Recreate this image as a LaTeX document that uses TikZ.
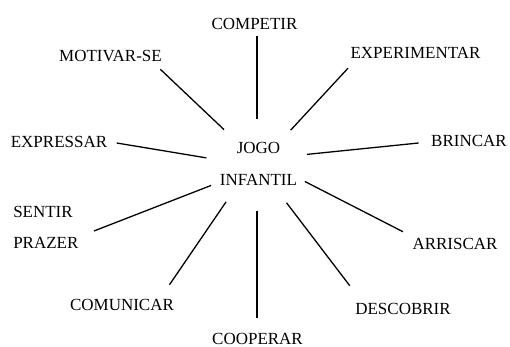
\documentclass[tikz,border=0pt]{standalone}
\usepackage{fontspec}
\setmainfont{Liberation Serif}
\usetikzlibrary{shapes.geometric}
\begin{document}
\begin{tikzpicture}[
    x=0.03cm, y=0.03cm,
    word/.style={inner sep=0.1cm, font=\fontsize{14.5}{27}\selectfont, align=center},
    hub/.style={ellipse, minimum width=3.06cm, minimum height=2.76cm, inner sep=0},
    spoke/.style={line width=1.1pt},
]
\useasboundingbox (0,0) rectangle (510,347);
\node[hub] (hub) at (257,182) {};
\node[word] (jogo) at (258.5,183) {JOGO\\INFANTIL};

\node[word] (competir) at (254.5,323) {COMPETIR};
\node[word] (motivar) at (110.5,291) {MOTIVAR-SE};
\node[word] (experimentar) at (415.5,294) {EXPERIMENTAR};
\node[word] (expressar) at (59,205) {EXPRESSAR};
\node[word] (brincar) at (469,206) {BRINCAR};
\node[word, align=left, anchor=west] (sentir) at (9.7,119.5) {SENTIR\\PRAZER};
\node[word] (arriscar) at (455,103) {ARRISCAR};
\node[word] (comunicar) at (122,42) {COMUNICAR};
\node[word] (cooperar) at (257.5,8) {COOPERAR};
\node[word] (descobrir) at (403,38) {DESCOBRIR};

\draw[spoke, shorten >=0.09cm] (hub.90) -- (hub.90 |- competir.south);
\draw[spoke] (hub.133) -- ([shift={(-5,-4)}]motivar.south east);
\draw[spoke] (hub.46) -- ([shift={(1,-6)}]experimentar.south west);
\draw[spoke] (hub.172) -- ([shift={(6,-1)}]expressar.east);
\draw[spoke] (hub.12) -- ([shift={(-9,-2)}]brincar.west);
\draw[spoke] (hub.204) -- ([shift={(12,-3.5)}]sentir.east);
\draw[spoke] (hub.-19) -- ([shift={(-6,3)}]arriscar.north west);
\draw[spoke] (hub.-130) -- ([shift={(-8,11)}]comunicar.north east);
\draw[spoke, shorten >=0.36cm] (hub.-90) -- (hub.-90 |- cooperar.north);
\draw[spoke] (hub.-52) -- ([shift={(-2,14)}]descobrir.north west);
\end{tikzpicture}
\end{document}
